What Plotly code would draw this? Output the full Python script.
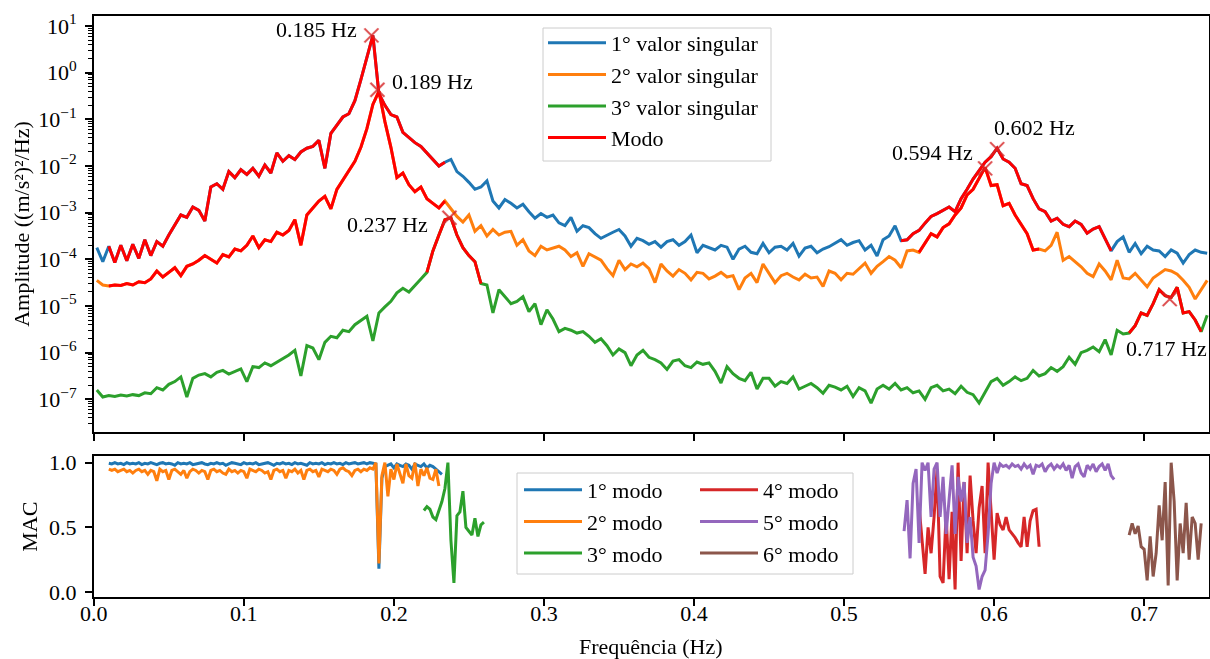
import numpy as np
import plotly.graph_objects as go

W, H = 1210, 659
FONT = "Liberation Serif"

# ---------------- data: singular values (log10 of amplitude, (m/s²)²/Hz) ----------------
sv_freq_start = 0.002   # Hz
sv_freq_step = 0.004    # Hz

sv1_log10 = [
    -3.75, -4.05, -3.72, -4.07, -3.70, -4.03, -3.68, -3.98, -3.58, -3.92,
    -3.62, -3.72, -3.48, -3.25, -3.05, -3.10, -2.88, -2.95, -3.18, -2.45,
    -2.38, -2.50, -2.12, -2.25, -2.08, -2.18, -2.05, -2.22, -1.98, -2.15,
    -1.72, -1.90, -1.78, -1.86, -1.70, -1.62, -1.58, -1.45, -2.05, -1.30,
    -1.12, -0.95, -0.88, -0.60, -0.15, 0.35, 0.80, -0.45, -0.70, -0.90,
    -0.95, -1.28, -1.40, -1.50, -1.58, -1.72, -1.85, -2.00, -1.92, -1.86,
    -2.12, -2.22, -2.35, -2.50, -2.45, -2.32, -2.75, -2.90, -2.72, -2.80,
    -2.90, -2.82, -2.98, -3.12, -3.02, -3.10, -3.05, -3.22, -3.28, -3.10,
    -3.40, -3.28, -3.32, -3.45, -3.55, -3.48, -3.42, -3.36, -3.50, -3.72,
    -3.55, -3.60, -3.68, -3.62, -3.74, -3.62, -3.58, -3.70, -3.62, -3.48,
    -3.86, -3.70, -3.75, -3.80, -3.70, -3.74, -4.00, -3.78, -3.72, -3.85,
    -3.88, -3.66, -3.86, -3.74, -3.72, -3.80, -3.66, -3.93, -3.76, -3.72,
    -3.86, -3.78, -3.73, -3.65, -3.58, -3.70, -3.64, -3.60, -3.80, -3.70,
    -3.93, -3.58, -3.50, -3.28, -3.60, -3.58, -3.45, -3.38, -3.22, -3.08,
    -3.02, -2.95, -2.88, -2.98, -2.70, -2.50, -2.28, -2.10, -1.92, -1.80,
    -1.62, -1.85, -1.92, -2.05, -2.38, -2.42, -2.70, -2.92, -2.98, -3.18,
    -3.12, -3.25, -3.30, -3.18, -3.25, -3.44, -3.35, -3.30, -3.55, -3.82,
    -3.62, -3.52, -3.85, -3.66, -3.88, -3.72, -3.80, -3.82, -3.94, -3.80,
    -3.87, -4.08, -3.90, -3.80, -3.85, -3.87,
]

sv2_log10 = [
    -4.45, -4.55, -4.57, -4.55, -4.56, -4.52, -4.55, -4.48, -4.50, -4.42,
    -4.25, -4.38, -4.28, -4.18, -4.35, -4.15, -4.10, -4.02, -3.92, -4.00,
    -4.08, -3.90, -3.95, -3.78, -3.82, -3.70, -3.50, -3.75, -3.58, -3.62,
    -3.42, -3.48, -3.38, -3.15, -3.70, -3.05, -2.90, -2.75, -2.65, -2.92,
    -2.50, -2.30, -2.10, -1.90, -1.60, -1.20, -0.68, -0.40, -1.05, -1.60,
    -2.25, -2.15, -2.40, -2.55, -2.45, -2.70, -2.80, -2.90, -2.75, -2.92,
    -3.08, -3.20, -3.05, -3.40, -3.28, -3.50, -3.36, -3.48, -3.42, -3.40,
    -3.70, -3.58, -3.82, -3.92, -3.72, -3.80, -3.76, -3.72, -3.80, -3.94,
    -3.86, -4.15, -3.88, -3.95, -4.02, -4.20, -4.35, -4.02, -4.22, -4.10,
    -4.16, -4.08, -4.20, -4.50, -4.10, -4.25, -4.36, -4.22, -4.30, -4.44,
    -4.28, -4.30, -4.42, -4.36, -4.28, -4.38, -4.35, -4.65, -4.40, -4.30,
    -4.50, -4.10, -4.30, -4.50, -4.35, -4.30, -4.38, -4.44, -4.32, -4.40,
    -4.38, -4.58, -4.25, -4.30, -4.44, -4.30, -4.32, -4.20, -4.08, -4.30,
    -4.15, -4.05, -3.94, -4.02, -4.18, -3.82, -3.80, -3.85, -3.64, -3.45,
    -3.52, -3.32, -3.24, -3.05, -2.90, -2.62, -2.50, -2.28, -2.03, -2.42,
    -2.40, -2.85, -2.80, -3.05, -3.25, -3.45, -3.80, -3.78, -3.82, -3.70,
    -3.42, -4.02, -3.94, -4.05, -4.16, -4.30, -4.37, -4.10, -4.25, -4.44,
    -4.02, -4.40, -4.42, -4.30, -4.45, -4.59, -4.40, -4.30, -4.22, -4.25,
    -4.32, -4.45, -4.60, -4.85, -4.65, -4.45,
]

sv3_log10 = [
    -6.80, -6.95, -6.92, -6.94, -6.91, -6.93, -6.90, -6.92, -6.86, -6.88,
    -6.75, -6.80, -6.68, -6.62, -6.52, -6.95, -6.55, -6.48, -6.45, -6.52,
    -6.42, -6.38, -6.46, -6.40, -6.35, -6.62, -6.30, -6.32, -6.22, -6.28,
    -6.20, -6.12, -6.05, -5.95, -6.50, -5.85, -5.90, -6.15, -5.78, -5.65,
    -5.68, -5.52, -5.55, -5.40, -5.30, -5.22, -5.75, -5.15, -5.02, -4.90,
    -4.72, -4.62, -4.70, -4.55, -4.42, -4.28, -3.82, -3.48, -3.15, -3.11,
    -3.48, -3.75, -3.92, -4.05, -4.52, -4.55, -5.15, -4.65, -4.80, -4.95,
    -4.90, -4.80, -5.12, -4.95, -5.40, -5.08, -5.28, -5.55, -5.48, -5.52,
    -5.58, -5.55, -5.65, -5.78, -5.70, -5.85, -6.05, -5.92, -6.00, -6.28,
    -6.05, -5.95, -6.10, -6.15, -6.22, -6.36, -6.18, -6.15, -6.28, -6.32,
    -6.20, -6.25, -6.22, -6.40, -6.65, -6.30, -6.45, -6.55, -6.60, -6.42,
    -6.78, -6.55, -6.55, -6.72, -6.62, -6.66, -6.52, -6.78, -6.72, -6.66,
    -6.75, -6.87, -6.70, -6.74, -6.80, -6.72, -6.94, -6.75, -6.82, -7.08,
    -6.78, -6.70, -6.78, -6.66, -6.80, -6.75, -6.86, -6.82, -7.00, -6.75,
    -6.70, -6.82, -6.78, -6.88, -6.72, -6.85, -6.90, -7.08, -6.85, -6.62,
    -6.55, -6.70, -6.62, -6.52, -6.60, -6.55, -6.38, -6.50, -6.45, -6.32,
    -6.40, -6.30, -6.10, -6.25, -6.00, -5.95, -5.88, -5.98, -5.72, -6.05,
    -5.52, -5.60, -5.58, -5.42, -5.15, -5.20, -4.95, -4.65, -4.78, -4.82,
    -4.60, -5.15, -5.12, -5.30, -5.55, -5.20,
]

sv_names = ["1° valor singular", "2° valor singular", "3° valor singular"]
sv_colors = ["#1f77b4", "#ff7f0e", "#2ca02c"]

# identified modes: which singular value curve and frequency band (Hz)
mode_sv_index = [0, 1, 2, 1, 0, 2]
mode_band_lo = [0.010, 0.010, 0.222, 0.550, 0.538, 0.690]
mode_band_hi = [0.234, 0.234, 0.258, 0.630, 0.678, 0.738]

# picked peaks
peak_freq = [0.185, 0.189, 0.237, 0.594, 0.602, 0.717]
peak_amp = [6.3, 0.43, 7.8e-4, 8.9e-3, 2.3e-2, 1.4e-5]

# ---------------- data: MAC per mode ----------------
mac_step = 0.002
mac_start = [0.010, 0.010, 0.220, 0.550, 0.540, 0.690]

mac1 = [
    0.995, 0.99, 1.0, 0.99, 0.995, 0.985, 1.0, 0.99, 0.995, 0.99,
    1.0, 0.985, 0.995, 0.99, 1.0, 0.99, 0.985, 0.995, 1.0, 0.99,
    0.995, 0.99, 0.98, 1.0, 0.99, 0.995, 0.99, 1.0, 0.985, 0.99,
    0.995, 1.0, 0.99, 0.985, 0.995, 0.99, 1.0, 0.99, 0.995, 0.98,
    0.99, 1.0, 0.995, 0.99, 0.985, 1.0, 0.99, 0.995, 0.99, 1.0,
    0.985, 0.99, 0.995, 1.0, 0.99, 0.98, 0.995, 0.99, 1.0, 0.99,
    0.995, 0.985, 1.0, 0.99, 0.995, 0.99, 0.98, 1.0, 0.99, 0.995,
    0.99, 1.0, 0.985, 0.995, 0.99, 1.0, 0.99, 0.995, 0.985, 1.0,
    0.99, 0.995, 1.0, 0.99, 0.995, 1.0, 0.99, 1.0, 0.995,
    0.99, 0.18, 0.88, 0.97,
    0.98, 0.99, 0.96, 0.99, 0.98, 0.97, 0.99, 0.98, 0.95, 0.99,
    0.98, 0.97, 0.99, 0.96, 0.98, 0.97, 0.95, 0.93, 0.91,
]

mac2 = [
    0.95, 0.94, 0.95, 0.93, 0.94, 0.95, 0.93, 0.94, 0.92, 0.94,
    0.95, 0.93, 0.94, 0.91, 0.94, 0.93, 0.86, 0.95, 0.93, 0.94,
    0.87, 0.94, 0.95, 0.93, 0.91, 0.94, 0.88, 0.93, 0.95, 0.94,
    0.92, 0.94, 0.93, 0.87, 0.94, 0.95, 0.93, 0.94, 0.92, 0.91,
    0.95, 0.93, 0.94, 0.92, 0.94, 0.93, 0.88, 0.95, 0.94, 0.93,
    0.95, 0.94, 0.92, 0.93, 0.87, 0.94, 0.95, 0.93, 0.94, 0.88,
    0.94, 0.93, 0.95, 0.92, 0.94, 0.87, 0.94, 0.95, 0.93, 0.94,
    0.89, 0.95, 0.94, 0.93, 0.95, 0.94, 0.91, 0.95, 0.96, 0.94,
    0.93, 0.90, 0.94, 0.95, 0.93, 0.95, 0.94, 0.96, 0.95, 1.00,
    0.22, 0.90, 1.00, 0.74, 0.95, 0.87, 0.99, 0.92, 0.84, 0.99,
    0.90, 0.88, 1.00, 0.82, 0.95, 0.90, 0.96, 0.88, 0.87, 0.95,
    0.82,
]

mac3 = [
    0.63, 0.66, 0.64, 0.58, 0.56, 0.63, 0.70, 0.80, 1.00, 0.40,
    0.07, 0.59, 0.62, 0.78, 0.50, 0.47, 0.44, 0.57, 0.43, 0.52,
    0.54,
]

mac4 = [
    0.66, 0.38, 0.14, 0.50, 0.30, 0.58, 0.95, 0.12, 0.07, 0.60,
    0.10, 0.62, 0.02, 1.00, 0.24, 0.85, 0.30, 0.90, 0.55, 0.30,
    0.65, 0.82, 0.30, 1.00, 0.58, 0.25, 0.61, 0.52, 0.48, 0.58,
    0.48, 0.45, 0.42, 0.38, 0.35, 0.58, 0.35, 0.55, 0.63, 0.64,
    0.35,
]

mac5 = [
    0.47, 0.71, 0.26, 0.84, 0.95, 0.38, 1.00, 0.94, 1.00, 0.58,
    0.95, 1.00, 0.58, 0.89, 0.45, 0.73, 0.98, 0.45, 0.89, 0.70,
    0.85, 0.38, 0.58, 0.27, 0.20, 0.02, 0.12, 0.17, 0.45, 0.84,
    1.00, 0.92, 0.99, 0.97, 0.98, 0.96, 0.99, 0.97, 0.98, 0.95,
    0.99, 0.96, 0.98, 0.91, 0.98, 0.97, 0.99, 0.93, 0.97, 0.99,
    0.95, 0.98, 0.96, 0.99, 0.94, 0.98, 0.88, 0.97, 0.99, 0.92,
    0.89, 0.98, 0.95, 0.99, 0.93, 0.97, 0.99, 0.94, 0.99, 0.90,
    0.87,
]

mac6 = [
    0.44, 0.53, 0.45, 0.51, 0.35, 0.33, 0.09, 0.43, 0.12, 0.30,
    0.67, 0.40, 0.85, 0.05, 1.00, 0.70, 0.09, 0.53, 0.30, 0.69,
    0.25, 0.58, 0.53, 0.25, 0.53,
]

mac_values = [mac1, mac2, mac3, mac4, mac5, mac6]
mac_names = ["1° modo", "2° modo", "3° modo", "4° modo", "5° modo", "6° modo"]
mac_colors = ["#1f77b4", "#ff7f0e", "#2ca02c", "#d62728", "#9467bd", "#8c564b"]

freq_ticks = [0.0, 0.1, 0.2, 0.3, 0.4, 0.5, 0.6, 0.7]
amp_decades = list(range(-7, 2))

# ---------------- layout geometry (pixels) ----------------
X_L, X_R = 93.8, 1209.0
TOP_T, TOP_B = 16.0, 431.7
BOT_T, BOT_B = 456.2, 597.2
X_MAX = (X_R - X_L) / 1500.5


def px_x(p):
    return p / W


def px_y(p):
    return 1 - p / H


fig = go.Figure()

sv_logs = [np.array(v, dtype=float) for v in (sv1_log10, sv2_log10, sv3_log10)]
sv_freqs = [sv_freq_start + sv_freq_step * np.arange(len(v)) for v in sv_logs]

for i in range(3):
    fig.add_trace(go.Scatter(
        x=sv_freqs[i], y=10 ** sv_logs[i], mode="lines", name=sv_names[i],
        line=dict(color=sv_colors[i], width=3), xaxis="x", yaxis="y",
        legend="legend", hoverinfo="skip"))

red_x, red_y = [], []
for s, lo, hi in zip(mode_sv_index, mode_band_lo, mode_band_hi):
    f = sv_freqs[s]
    m = (f >= lo - 1e-9) & (f <= hi + 1e-9)
    red_x += list(f[m]) + [None]
    red_y += list(10 ** sv_logs[s][m]) + [None]
fig.add_trace(go.Scatter(
    x=red_x, y=red_y, mode="lines", name="Modo", connectgaps=False,
    line=dict(color="#ff0000", width=3), xaxis="x", yaxis="y",
    legend="legend", hoverinfo="skip"))

fig.add_trace(go.Scatter(
    x=peak_freq, y=peak_amp, mode="markers", showlegend=False,
    marker=dict(symbol="x-thin", size=14, color="#d62728",
                line=dict(color="#d62728", width=2)),
    opacity=0.85, xaxis="x", yaxis="y", hoverinfo="skip"))

for i in range(6):
    vals = np.array(mac_values[i], dtype=float)
    f = mac_start[i] + mac_step * np.arange(len(vals))
    fig.add_trace(go.Scatter(
        x=f, y=vals, mode="lines", name=mac_names[i],
        line=dict(color=mac_colors[i], width=3), xaxis="x2", yaxis="y2",
        legend="legend2" if i < 3 else "legend3", hoverinfo="skip"))

# peak labels (anchor, x offset px, y offset px)
label_style = [("right", -12, 6), ("left", 13, 8), ("right", -19, -7),
               ("right", -10, 16), ("left", -5, 22), ("left", -46, -49)]
annotations = []
for f, a, (anc, dx, dy) in zip(peak_freq, peak_amp, label_style):
    annotations.append(dict(
        x=f, y=np.log10(a), xref="x", yref="y", text=f"{f:.3f} Hz",
        showarrow=False, xanchor=anc, yanchor="middle", xshift=dx, yshift=dy,
        font=dict(family=FONT, size=22, color="black")))

# axis titles
annotations.append(dict(
    x=px_x(22), y=px_y((TOP_T + TOP_B) / 2), xref="paper", yref="paper",
    text="Amplitude ((m/s²)²/Hz)", textangle=-90, showarrow=False,
    xanchor="center", yanchor="middle", font=dict(family=FONT, size=22)))
annotations.append(dict(
    x=px_x(30), y=px_y((BOT_T + BOT_B) / 2), xref="paper", yref="paper",
    text="MAC", textangle=-90, showarrow=False,
    xanchor="center", yanchor="middle", font=dict(family=FONT, size=22)))
annotations.append(dict(
    x=px_x((X_L + X_R) / 2), y=px_y(646), xref="paper", yref="paper",
    text="Frequência (Hz)", showarrow=False,
    xanchor="center", yanchor="middle", font=dict(family=FONT, size=22)))

axis_common = dict(showline=True, linecolor="black", linewidth=1.6, mirror=True,
                   showgrid=False, zeroline=False, ticks="outside", ticklen=7,
                   tickwidth=1.6, tickcolor="black", automargin=False,
                   tickfont=dict(family=FONT, size=22, color="black"))

minor_vals = [k * 10.0 ** d for d in range(-8, 2) for k in range(2, 10)]

legend_box = dict(fillcolor="rgba(255,255,255,0.8)",
                  line=dict(color="#cccccc", width=1), layer="above",
                  type="rect", xref="paper", yref="paper")

fig.update_layout(
    width=W, height=H, margin=dict(l=0, r=0, t=0, b=0, autoexpand=False),
    paper_bgcolor="white", plot_bgcolor="white",
    font=dict(family=FONT, size=22, color="black"),
    xaxis=dict(domain=[px_x(X_L), px_x(X_R)], range=[0, X_MAX], anchor="y",
               tickmode="array", tickvals=freq_ticks, showticklabels=False,
               **axis_common),
    yaxis=dict(domain=[px_y(TOP_B), px_y(TOP_T)], type="log",
               range=[-7.694, 1.214], anchor="x", tickmode="array",
               tickvals=[10.0 ** d for d in amp_decades],
               ticktext=[f"10<sup>{d}</sup>".replace("-", "−") for d in amp_decades],
               ticklabelstandoff=4,
               minor=dict(tickmode="array", tickvals=minor_vals, ticks="outside",
                          ticklen=4, tickwidth=1.2, tickcolor="black",
                          showgrid=False),
               **axis_common),
    xaxis2=dict(domain=[px_x(X_L), px_x(X_R)], range=[0, X_MAX], anchor="y2",
                tickmode="array", tickvals=freq_ticks,
                ticktext=[f"{v:.1f}" for v in freq_ticks], ticklabelstandoff=-11,
                **axis_common),
    yaxis2=dict(domain=[px_y(BOT_B), px_y(BOT_T)], range=[-0.04, 1.05],
                anchor="x2", tickmode="array", tickvals=[0.0, 0.5, 1.0],
                ticktext=["0.0", "0.5", "1.0"], ticklabelstandoff=4,
                **axis_common),
    legend=dict(x=px_x(543), y=px_y(22), xanchor="left", yanchor="top",
                bgcolor="rgba(0,0,0,0)", borderwidth=0, itemwidth=58,
                font=dict(family=FONT, size=22)),
    legend2=dict(x=px_x(519), y=px_y(469), xanchor="left", yanchor="top",
                 bgcolor="rgba(0,0,0,0)", borderwidth=0, itemwidth=58,
                 font=dict(family=FONT, size=22)),
    legend3=dict(x=px_x(695), y=px_y(469), xanchor="left", yanchor="top",
                 bgcolor="rgba(0,0,0,0)", borderwidth=0, itemwidth=58,
                 font=dict(family=FONT, size=22)),
    shapes=[
        dict(x0=px_x(543), x1=px_x(771), y0=px_y(161), y1=px_y(28), **legend_box),
        dict(x0=px_x(517), x1=px_x(853), y0=px_y(574), y1=px_y(473), **legend_box),
    ],
    annotations=annotations,
)

fig.write_html("out.html")
